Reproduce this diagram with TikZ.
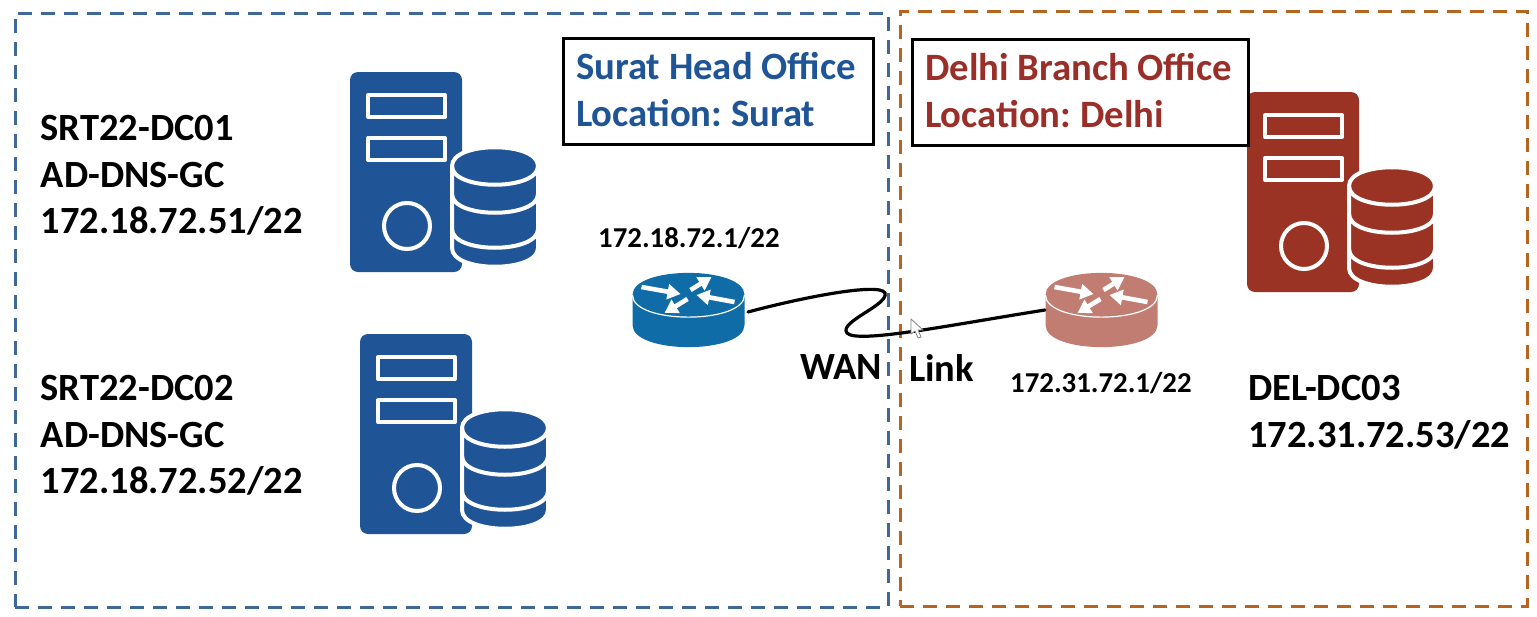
\documentclass[tikz,border=0pt]{standalone}
\usepackage{fontspec}
\setmainfont{Carlito}
\usetikzlibrary{arrows.meta}
\definecolor{srvblue}{HTML}{1F5596}
\definecolor{srvred}{HTML}{9A3324}
\definecolor{rtblue}{HTML}{0F6CA6}
\definecolor{rtred}{HTML}{C27D72}
\definecolor{dashblue}{HTML}{3F6797}
\definecolor{dashorange}{HTML}{B5651D}
\definecolor{titleblue}{HTML}{1F5596}
\definecolor{titlered}{HTML}{9A2F2A}
\tikzset{
  x=1pt,y=-1pt,
  zonebox/.style={draw=#1,line width=3pt,dash pattern=on 14pt off 9pt,inner sep=0pt,outer sep=0pt,anchor=north west},
  titlebox/.style={draw=black,line width=3pt,fill=white,inner sep=0pt,outer sep=0pt,anchor=north west},
  bigtext/.style={font=\fontsize{38.5}{46.5}\selectfont\bfseries,align=left,anchor=north west,inner sep=0pt,text=black},
  titletext/.style={font=\fontsize{38.7}{47}\selectfont\bfseries\frenchspacing,align=left,anchor=north west,inner sep=0pt,text=#1},
  iptext/.style={font=\fontsize{28.8}{30}\selectfont\bfseries,anchor=north west,inner sep=0pt,text=black},
  cable/.style={draw=black,line width=3.2pt,line cap=round},
  rtarrow/.style={draw=white,line width=4.6pt,-{Triangle[length=13pt,width=15pt]}},
  pics/server/.style={code={
    \fill[#1,rounded corners=8pt] (0,0) rectangle (112,200);
    \draw[white,line width=4pt,line join=round] (18,23) rectangle (95,45);
    \draw[white,line width=4pt,line join=round] (18,66) rectangle (95,88);
    \draw[white,line width=4pt] (57,154) circle[radius=23pt];
    \draw[white,line width=4pt,fill=#1] (102,94) .. controls (102,69) and (188,69) .. (188,94)
      -- (188,176) .. controls (188,201) and (102,201) .. (102,176) -- cycle;
    \draw[white,line width=4pt] (102,94) .. controls (102,119) and (188,119) .. (188,94);
    \draw[white,line width=4pt] (102,122) .. controls (102,147) and (188,147) .. (188,122);
    \draw[white,line width=4pt] (102,157) .. controls (102,182) and (188,182) .. (188,157);
  }},
  pics/router/.style={code={
    \fill[#1] (-56,0) -- (-56,30) .. controls (-56,59.5) and (56,59.5) .. (56,30)
      -- (56,0) .. controls (56,-29.5) and (-56,-29.5) .. (-56,0) -- cycle;
    \draw[white,line width=1.2pt] (-56,0) .. controls (-56,29.5) and (56,29.5) .. (56,0);
    \draw[rtarrow] (-47,-8) -- (-8,-1);
    \draw[rtarrow] (2,-5) -- (23,-18);
    \draw[rtarrow] (46,7) -- (8,0);
    \draw[rtarrow] (-1,4) -- (-24,18);
  }},
}
\begin{document}
\begin{tikzpicture}
\useasboundingbox (0,0) rectangle (1537,616);
% zones
\node[zonebox=dashblue,minimum width=873pt,minimum height=594pt] (surat) at (15,13) {};
\node[zonebox=dashorange,minimum width=627pt,minimum height=595pt] (delhi) at (900,11) {};
% servers
\pic (srv1) at (350,72) {server=srvblue};
\pic (srv2) at (360,334) {server=srvblue};
\pic (srv3) at (1247,92) {server=srvred};
% routers
\pic (rt1) at (688.5,295) {router=rtblue};
\pic (rt2) at (1101.5,295) {router=rtred};
\coordinate (rt1port) at (748,312);
\coordinate (rt2port) at (1045,310);
% title boxes
\node[titlebox,minimum width=310pt,minimum height=106pt] (suratbox) at (563,38) {};
\node[titlebox,minimum width=336pt,minimum height=106pt] (delhibox) at (912,39) {};
\node[titletext=titleblue] (surattitle) at (576,52) {Surat Head Office\\Location: Surat};
\node[titletext=titlered] (delhititle) at (925,53) {Delhi Branch Office\\Location: Delhi};
% labels
\node[bigtext] (lab1) at (40.5,115.5) {SRT22-DC01\\AD-DNS-GC\\172.18.72.51/22};
\node[bigtext] (lab2) at (40.5,375.5) {SRT22-DC02\\AD-DNS-GC\\172.18.72.52/22};
\node[bigtext] (lab3) at (1248,375.5) {DEL-DC03\\172.31.72.53/22};
\node[iptext] (ip1) at (598,227) {172.18.72.1/22};
\node[iptext] (ip2) at (1010,372) {172.31.72.1/22};
\node[bigtext] (wan) at (800,354) {WAN};
\node[bigtext] (link) at (909,354) {Link};
% cable
\draw[cable] (rt1port) .. controls (800,298) and (880,282) .. (885,293)
  .. controls (889,305) and (838,322) .. (847,333)
  .. controls (857,344) and (950,325) .. (rt2port);
% pointer
\draw[draw=gray,fill=white,line width=0.8pt,line join=round] (911,319) -- (911,334) -- (915,331) -- (918,338) -- (921,337) -- (918,330) -- (923,330) -- cycle;
\end{tikzpicture}
\end{document}
